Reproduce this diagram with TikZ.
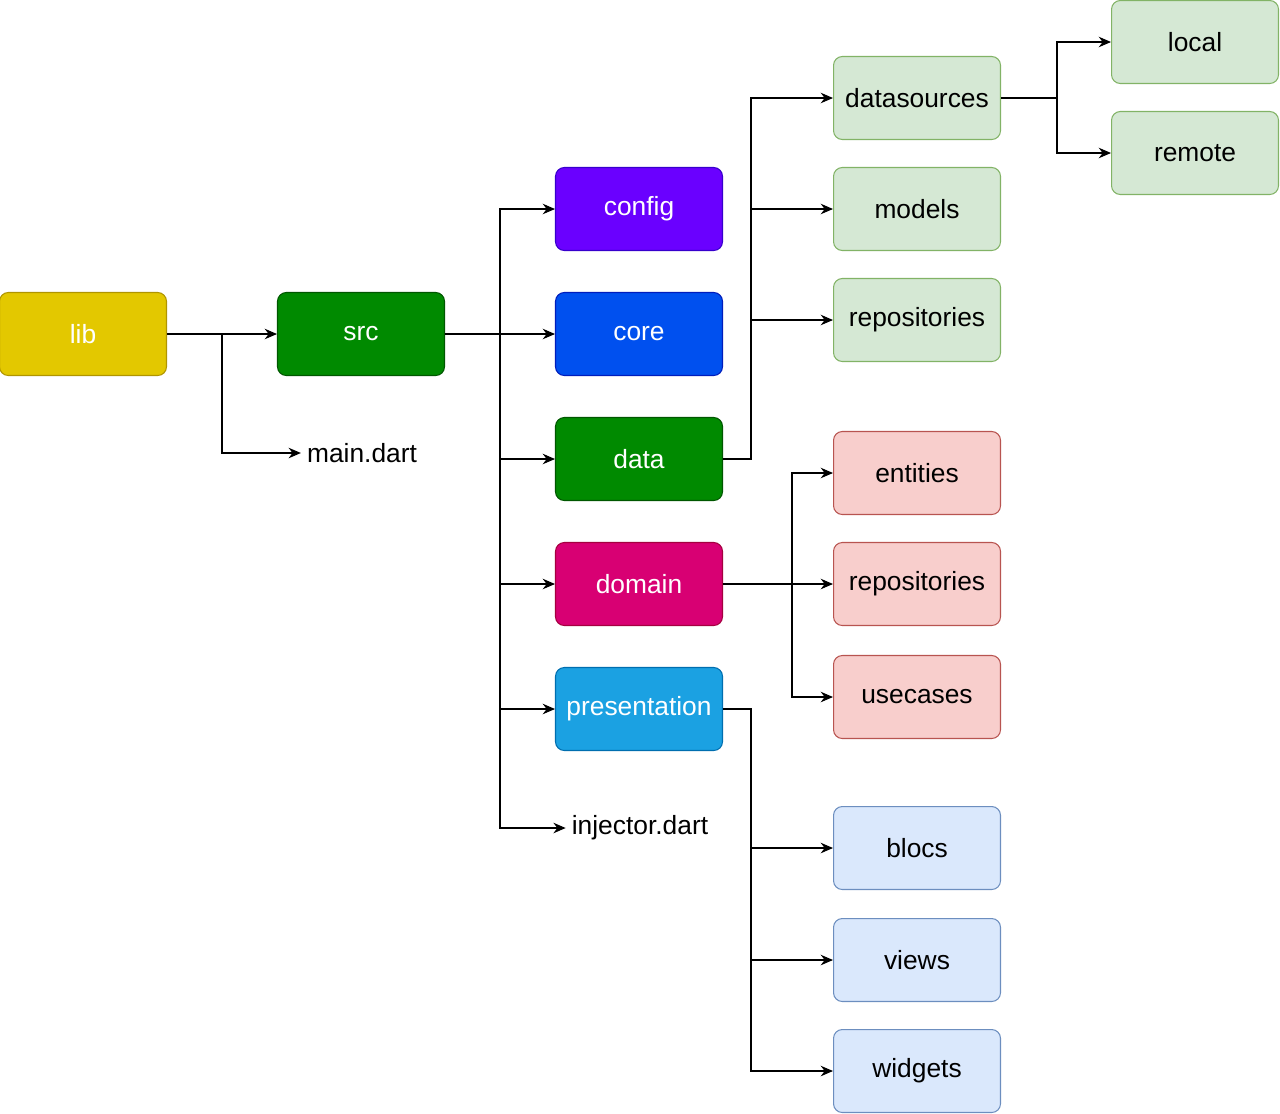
\documentclass[tikz,border=0pt]{standalone}
\usepackage{fontspec}
\setmainfont{Liberation Sans}
\usetikzlibrary{positioning,arrows.meta}
\definecolor{libf}{HTML}{E3C800}\definecolor{libd}{HTML}{B09500}
\definecolor{grnf}{HTML}{008A00}\definecolor{grnd}{HTML}{005700}
\definecolor{vlf}{HTML}{6A00FF}\definecolor{vld}{HTML}{3700CC}
\definecolor{cof}{HTML}{0050EF}\definecolor{cod}{HTML}{001DBC}
\definecolor{dmf}{HTML}{D80073}\definecolor{dmd}{HTML}{A50040}
\definecolor{prf}{HTML}{1BA1E2}\definecolor{prd}{HTML}{006EAF}
\definecolor{lgf}{HTML}{D5E8D4}\definecolor{lgd}{HTML}{82B366}
\definecolor{lrf}{HTML}{F8CECC}\definecolor{lrd}{HTML}{B85450}
\definecolor{lbf}{HTML}{DAE8FC}\definecolor{lbd}{HTML}{6C8EBF}
\begin{document}
\begin{tikzpicture}
	[x=0.02cm,y=-0.02cm,font=\fontsize{15}{15}\selectfont,
	box/.style={rectangle,rounded corners=5pt,minimum width=3.34cm,minimum height=1.66cm,inner sep=0pt,line width=0.6pt},
	dark/.style={box,text=white},
	arr/.style={-{Stealth[length=7pt,width=6pt]},line width=0.6pt}]
	\useasboundingbox (0,0) rectangle (1280,1113);
	%LEVEL 0
	\node[dark,fill=libf,draw=libd] (lib) at (83,334) {lib};
	\node[dark,fill=grnf,draw=grnd] (src) at (361,334) {src};
	\node (main) at (362,453) {main.dart};
	%LEVEL 1
	\node[dark,fill=vlf,draw=vld] (config) at (639,209) {config};
	\node[dark,fill=cof,draw=cod] (core) at (639,334) {core};
	\node[dark,fill=grnf,draw=grnd] (data) at (639,459) {data};
	\node[dark,fill=dmf,draw=dmd] (domain) at (639,584) {domain};
	\node[dark,fill=prf,draw=prd] (presentation) at (639,709) {presentation};
	\node (injector) at (640,828) {injector.dart};
	%LEVEL 2
	\node[box,fill=lgf,draw=lgd] (datasources) at (917,98) {datasources};
	\node[box,fill=lgf,draw=lgd] (models) at (917,209) {models};
	\node[box,fill=lgf,draw=lgd] (drepos) at (917,320) {repositories};
	\node[box,fill=lrf,draw=lrd] (entities) at (917,473) {entities};
	\node[box,fill=lrf,draw=lrd] (mrepos) at (917,584) {repositories};
	\node[box,fill=lrf,draw=lrd] (usecases) at (917,697) {usecases};
	\node[box,fill=lbf,draw=lbd] (blocs) at (917,848) {blocs};
	\node[box,fill=lbf,draw=lbd] (views) at (917,960) {views};
	\node[box,fill=lbf,draw=lbd] (widgets) at (917,1071) {widgets};
	%LEVEL 3
	\node[box,fill=lgf,draw=lgd] (local) at (1195,42) {local};
	\node[box,fill=lgf,draw=lgd] (remote) at (1195,153) {remote};
	% connectors
	\draw[arr] (lib) -- (src);
	\draw[arr] (lib.east) -| (222,453) -- (main.west);
	\foreach \n in {config,core,data,domain,presentation}
		\draw[arr] (src.east) -| (500,0 |- \n.west) -- (\n.west);
	\draw[arr] (src.east) -| (500,828) -- (injector.west);
	\foreach \n in {datasources,models,drepos}
		\draw[arr] (data.east) -| (751,0 |- \n.west) -- (\n.west);
	\foreach \n in {entities,mrepos,usecases}
		\draw[arr] (domain.east) -| (792,0 |- \n.west) -- (\n.west);
	\foreach \n in {blocs,views,widgets}
		\draw[arr] (presentation.east) -| (751,0 |- \n.west) -- (\n.west);
	\foreach \n in {local,remote}
		\draw[arr] (datasources.east) -| (1057,0 |- \n.west) -- (\n.west);
\end{tikzpicture}
\end{document}
